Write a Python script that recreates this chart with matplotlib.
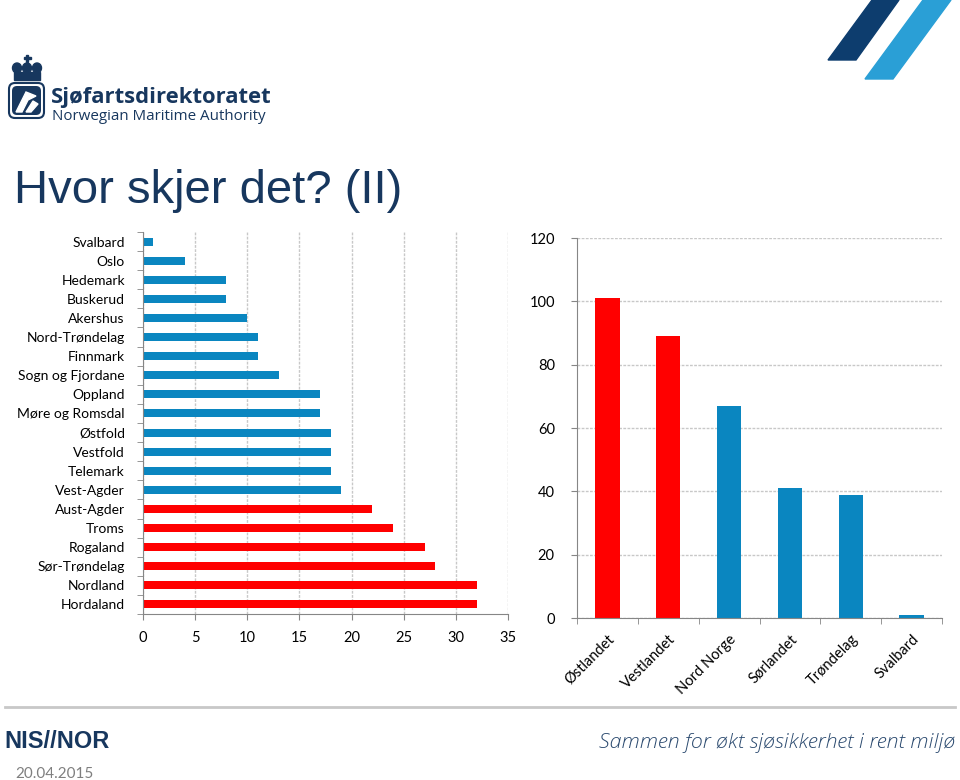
import matplotlib
matplotlib.use("Agg")
import matplotlib.pyplot as plt
from matplotlib.patches import Polygon, FancyBboxPatch, Ellipse, Rectangle

# data
fylker = ["Svalbard", "Oslo", "Hedemark", "Buskerud", "Akershus", "Nord-Trøndelag",
          "Finnmark", "Sogn og Fjordane", "Oppland", "Møre og Romsdal", "Østfold",
          "Vestfold", "Telemark", "Vest-Agder", "Aust-Agder", "Troms", "Rogaland",
          "Sør-Trøndelag", "Nordland", "Hordaland"]
fylke_verdier = [1, 4, 8, 8, 10, 11, 11, 13, 17, 17, 18, 18, 18, 19, 22, 24, 27, 28, 32, 32]
fylke_topp = [False] * 14 + [True] * 6

regioner = ["Østlandet", "Vestlandet", "Nord Norge", "Sørlandet", "Trøndelag", "Svalbard"]
region_verdier = [101, 89, 67, 41, 39, 1]
region_topp = [True, True, False, False, False, False]

BLUE = "#0a86c0"
RED = "#ff0000"
NAVY = "#17375e"
W, H = 960, 780

plt.rcParams["font.family"] = ["Lato", "DejaVu Sans"]

fig = plt.figure(figsize=(W / 100, H / 100), dpi=100)


def px_axes(x0, y0, x1, y1, **kw):
    # pixel box (top-left origin) -> figure axes
    return fig.add_axes([x0 / W, 1 - y1 / H, (x1 - x0) / W, (y1 - y0) / H], **kw)


# background decoration layer
bg = px_axes(0, 0, W, H)
bg.set_xlim(0, W)
bg.set_ylim(H, 0)
bg.axis("off")

bg.add_patch(Polygon([(872, 0), (899, 0), (856, 60), (828, 60)], closed=True, color="#0d3d6e"))
bg.add_patch(Polygon([(923, 0), (951, 0), (893, 79), (865, 79)], closed=True, color="#2a9fd6"))

# simple logo: crown + shield
bg.add_patch(Rectangle((14, 72), 26, 8, color=NAVY))
for cx in (17, 27, 37):
    bg.add_patch(Ellipse((cx, 68), 9, 10, color=NAVY))
bg.add_patch(Rectangle((26, 55), 2, 7, color=NAVY))
bg.add_patch(Rectangle((23.5, 57), 7, 2, color=NAVY))
bg.add_patch(FancyBboxPatch((9, 83), 35, 35, boxstyle="round,pad=0,rounding_size=6",
                            fc="white", ec=NAVY, lw=1.5))
bg.add_patch(FancyBboxPatch((12, 86), 29, 29, boxstyle="round,pad=0,rounding_size=5",
                            fc=NAVY, ec="none"))
bg.add_patch(Polygon([(16, 112), (26, 92), (36, 96), (28, 100), (22, 112)], closed=True, color="white"))
bg.add_patch(Polygon([(26, 112), (33, 101), (38, 104), (31, 112)], closed=True, color="white"))
bg.text(51, 103, "Sjøfartsdirektoratet", fontsize=15.8, fontweight="bold", color=NAVY,
        family=["Open Sans", "DejaVu Sans"], va="baseline")
bg.text(52, 120, "Norwegian Maritime Authority", fontsize=10.9, color=NAVY,
        family=["Open Sans", "DejaVu Sans"], va="baseline")

bg.text(14, 203, "Hvor skjer det? (II)", fontsize=34, color=NAVY,
        family=["Liberation Sans", "DejaVu Sans"], va="baseline")

# footer
bg.plot([5, 955], [707, 707], color="#c8c8c8", lw=2)
bg.text(4, 748, "NIS//NOR", fontsize=17, fontweight="bold", color=NAVY,
        family=["Liberation Sans Narrow", "Liberation Sans", "DejaVu Sans"], va="baseline")
bg.text(955, 748, "Sammen for økt sjøsikkerhet i rent miljø", fontsize=15.4, style="italic",
        fontweight="light", color="#2b4a6f", ha="right", va="baseline",
        family=["Open Sans", "DejaVu Sans"])
bg.text(15, 778, "20.04.2015", fontsize=11, color="#7f7f7f", va="baseline")

# left chart: fylker
ax1 = px_axes(143, 232, 508, 614)
ypos = list(range(len(fylker)))
ax1.barh(ypos, fylke_verdier, height=0.42,
         color=[RED if t else BLUE for t in fylke_topp])
ax1.set_ylim(len(fylker) - 0.5, -0.5)
ax1.set_xlim(0, 35)
ax1.set_xticks(range(0, 36, 5))
ax1.set_yticks(ypos)
ax1.set_yticklabels(fylker)
ax1.set_yticks([y - 0.5 for y in range(len(fylker) + 1)], minor=True)
ax1.tick_params(axis="y", which="major", length=0, labelsize=10, pad=13)
ax1.tick_params(axis="y", which="minor", length=4, color="#868686", direction="out")
ax1.tick_params(axis="x", length=4, color="#868686", labelsize=10.5, pad=8)
ax1.grid(axis="x", color="#c8c8c8", ls=(0, (2, 1)), lw=1)
ax1.set_axisbelow(True)
for s in ("top", "right"):
    ax1.spines[s].set_visible(False)
for s in ("left", "bottom"):
    ax1.spines[s].set_color("#868686")

# right chart: regioner
ax2 = px_axes(577, 238, 942, 618)
xpos = list(range(len(regioner)))
ax2.bar(xpos, region_verdier, width=0.4,
        color=[RED if t else BLUE for t in region_topp])
ax2.set_xlim(-0.5, len(regioner) - 0.5)
ax2.set_ylim(0, 120)
ax2.set_yticks(range(0, 121, 20))
ax2.set_xticks(xpos)
ax2.set_xticklabels(regioner, rotation=45, ha="right", rotation_mode="anchor")
ax2.set_xticks([x - 0.5 for x in range(len(regioner) + 1)], minor=True)
ax2.tick_params(axis="x", which="major", length=0, labelsize=10.5, pad=10)
ax2.tick_params(axis="x", which="minor", length=4, color="#868686")
ax2.tick_params(axis="y", length=4, color="#868686", labelsize=10.5, pad=12)
ax2.grid(axis="y", color="#c8c8c8", ls=(0, (2, 1)), lw=1)
ax2.set_axisbelow(True)
for s in ("top", "right"):
    ax2.spines[s].set_visible(False)
for s in ("left", "bottom"):
    ax2.spines[s].set_color("#868686")

fig.savefig("out.png", dpi=100)
